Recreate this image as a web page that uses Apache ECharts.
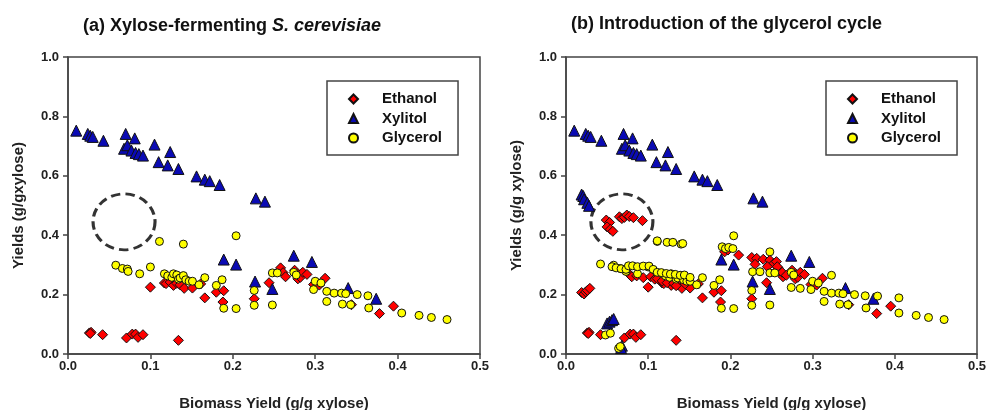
<!DOCTYPE html>
<html>
<head>
<meta charset="utf-8">
<script src="https://cdn.jsdelivr.net/npm/echarts@6/dist/echarts.min.js"></script>
<style>
    html, body { margin: 0; padding: 0; background: #fff; }
    #yieldCharts { width: 988px; height: 410px; }
</style>
</head>
<body>
<div id="yieldCharts"></div>
<script>
    // panel (a): xylose-fermenting S. cerevisiae  [biomass yield, product yield]
    const ethanolA = [
        [0.026, 0.071], [0.028, 0.073], [0.027, 0.069], [0.042, 0.065], [0.071, 0.054], [0.078, 0.067],
        [0.082, 0.067], [0.085, 0.056], [0.091, 0.065], [0.134, 0.046],
        [0.100, 0.225], [0.117, 0.239], [0.119, 0.237], [0.124, 0.242], [0.128, 0.231], [0.132, 0.238],
        [0.136, 0.233], [0.141, 0.221], [0.151, 0.222], [0.161, 0.236], [0.166, 0.189], [0.180, 0.208],
        [0.189, 0.213], [0.188, 0.175], [0.226, 0.186], [0.244, 0.240], [0.258, 0.290], [0.261, 0.274],
        [0.264, 0.260], [0.275, 0.282], [0.277, 0.270], [0.279, 0.253], [0.282, 0.258], [0.285, 0.275],
        [0.290, 0.268], [0.298, 0.234], [0.305, 0.232], [0.312, 0.255], [0.344, 0.166], [0.378, 0.136],
        [0.395, 0.161]
    ]
    const xylitolA = [
        [0.010, 0.752], [0.024, 0.741], [0.027, 0.735], [0.030, 0.731], [0.043, 0.718], [0.070, 0.741],
        [0.081, 0.726], [0.068, 0.691], [0.072, 0.703], [0.077, 0.685], [0.082, 0.677], [0.086, 0.673],
        [0.091, 0.668], [0.105, 0.705], [0.124, 0.680], [0.110, 0.646], [0.121, 0.635], [0.134, 0.623],
        [0.156, 0.598], [0.166, 0.587], [0.172, 0.582], [0.184, 0.569], [0.228, 0.524], [0.239, 0.513],
        [0.189, 0.318], [0.204, 0.301], [0.227, 0.244], [0.248, 0.219], [0.274, 0.331], [0.296, 0.310],
        [0.340, 0.222], [0.374, 0.186]
    ]
    const glycerolA = [
        [0.058, 0.299], [0.066, 0.288], [0.072, 0.286], [0.073, 0.278], [0.087, 0.270], [0.100, 0.293],
        [0.111, 0.379], [0.140, 0.370], [0.204, 0.398],
        [0.117, 0.270], [0.121, 0.263], [0.126, 0.258], [0.128, 0.270], [0.132, 0.266], [0.134, 0.252],
        [0.136, 0.256], [0.140, 0.264], [0.143, 0.250], [0.147, 0.245], [0.151, 0.245], [0.159, 0.233],
        [0.166, 0.257], [0.180, 0.231], [0.187, 0.250], [0.189, 0.154], [0.204, 0.153], [0.226, 0.214],
        [0.226, 0.164], [0.248, 0.165], [0.248, 0.273], [0.254, 0.273], [0.274, 0.275], [0.277, 0.266],
        [0.298, 0.217], [0.300, 0.245], [0.307, 0.239], [0.314, 0.211], [0.314, 0.177], [0.323, 0.205],
        [0.332, 0.205], [0.337, 0.203], [0.333, 0.168], [0.343, 0.166], [0.351, 0.200], [0.364, 0.196],
        [0.365, 0.155], [0.405, 0.138], [0.426, 0.130], [0.441, 0.123], [0.460, 0.116]
    ]

    // panel (b): extra points that appear after introducing the glycerol cycle
    const ethanolExtraB = [
        [0.049, 0.451], [0.053, 0.443], [0.050, 0.428], [0.054, 0.420], [0.057, 0.413], [0.065, 0.462],
        [0.068, 0.456], [0.071, 0.460], [0.074, 0.468], [0.077, 0.463], [0.082, 0.459], [0.093, 0.449],
        [0.019, 0.207], [0.022, 0.202], [0.024, 0.209], [0.026, 0.214], [0.029, 0.221],
        [0.077, 0.269], [0.080, 0.260], [0.086, 0.263], [0.094, 0.257], [0.103, 0.260], [0.108, 0.252],
        [0.111, 0.254], [0.117, 0.246], [0.123, 0.240], [0.131, 0.238], [0.134, 0.230], [0.145, 0.236],
        [0.193, 0.344], [0.210, 0.333], [0.197, 0.350],
        [0.226, 0.325], [0.232, 0.322], [0.230, 0.302], [0.240, 0.319], [0.248, 0.316], [0.253, 0.305],
        [0.256, 0.311], [0.257, 0.294], [0.245, 0.294], [0.263, 0.275], [0.268, 0.265]
    ]
    const xylitolExtraB = [
        [0.019, 0.537], [0.021, 0.532], [0.022, 0.521], [0.026, 0.509], [0.028, 0.499],
        [0.050, 0.103], [0.053, 0.109], [0.056, 0.114], [0.058, 0.118], [0.068, 0.028], [0.067, 0.020]
    ]
    const glycerolExtraB = [
        [0.042, 0.303], [0.056, 0.294], [0.061, 0.290], [0.067, 0.287], [0.073, 0.285], [0.076, 0.297],
        [0.081, 0.297], [0.087, 0.294], [0.094, 0.296], [0.101, 0.296], [0.106, 0.285], [0.111, 0.275],
        [0.116, 0.274], [0.122, 0.271], [0.127, 0.269], [0.133, 0.268], [0.139, 0.265], [0.144, 0.266],
        [0.151, 0.258], [0.111, 0.381], [0.123, 0.376], [0.130, 0.376], [0.142, 0.372],
        [0.190, 0.361], [0.194, 0.355], [0.198, 0.359], [0.203, 0.355], [0.248, 0.344],
        [0.048, 0.064], [0.054, 0.070], [0.064, 0.019], [0.066, 0.025],
        [0.323, 0.265], [0.379, 0.195], [0.405, 0.189], [0.274, 0.224], [0.285, 0.221],
        [0.227, 0.277], [0.236, 0.277]
    ]

    // dashed circle marking the region of interest
    const circleCentre = [[0.068, 0.445]]

    const seriesNames = ['Ethanol', 'Xylitol', 'Glycerol']
    const xTicks = { min: 0, max: 0.5, interval: 0.1 }
    const yTicks = { min: 0, max: 1.0, interval: 0.2 }
    const titles = ['(a) Xylose-fermenting {i|S. cerevisiae}', '(b) Introduction of the glycerol cycle']
    const yNames = ['Yields (g/gxylose)', 'Yields (g/g xylose)']
    const xName = 'Biomass Yield (g/g xylose)'

    const font = '"Liberation Sans", Arial, sans-serif'
    const frame = '#444'

    const chart = echarts.init(document.getElementById('yieldCharts'))

    const makeAxisX = (i) => ({
        type: 'value',
        gridIndex: i,
        min: xTicks.min,
        max: xTicks.max,
        interval: xTicks.interval,
        name: xName,
        nameLocation: 'middle',
        nameGap: 42,
        nameTextStyle: { fontFamily: font, fontWeight: 'bold', fontSize: 15, color: '#222' },
        axisLine: { lineStyle: { color: frame, width: 1.5 } },
        axisTick: { show: true, inside: false, length: 5, lineStyle: { color: frame, width: 1.5 } },
        axisLabel: {
            margin: 6,
            fontFamily: font,
            fontWeight: 'bold',
            fontSize: 13,
            color: '#222',
            formatter: v => v.toFixed(1)
        },
        splitLine: { show: false }
    })
    const makeAxisY = (i) => ({
        type: 'value',
        gridIndex: i,
        min: yTicks.min,
        max: yTicks.max,
        interval: yTicks.interval,
        name: yNames[i],
        nameLocation: 'middle',
        nameGap: 42,
        nameTextStyle: { fontFamily: font, fontWeight: 'bold', fontSize: 15, color: '#222' },
        axisLine: { lineStyle: { color: frame, width: 1.5 } },
        axisTick: { show: true, inside: false, length: 5, lineStyle: { color: frame, width: 1.5 } },
        axisLabel: {
            margin: 9,
            fontFamily: font,
            fontWeight: 'bold',
            fontSize: 13,
            color: '#222',
            formatter: v => v.toFixed(1)
        },
        splitLine: { show: false }
    })

    const makeSeries = (i, eth, xyl, gly) => [
        {
            name: seriesNames[0], type: 'scatter', xAxisIndex: i, yAxisIndex: i,
            symbol: 'diamond', symbolSize: 10, data: eth,
            itemStyle: { color: '#ff0000', borderColor: '#111', borderWidth: 1, opacity: 1 }
        },
        {
            name: seriesNames[1], type: 'scatter', xAxisIndex: i, yAxisIndex: i,
            symbol: 'triangle', symbolSize: 11, data: xyl,
            itemStyle: { color: '#0a0ab4', borderColor: '#111', borderWidth: 1, opacity: 1 }
        },
        {
            name: seriesNames[2], type: 'scatter', xAxisIndex: i, yAxisIndex: i,
            symbol: 'circle', symbolSize: 8, data: gly,
            itemStyle: { color: '#ffff00', borderColor: '#111', borderWidth: 1, opacity: 1 }
        },
        {
            name: 'region', type: 'scatter', xAxisIndex: i, yAxisIndex: i, silent: true,
            symbol: 'circle', symbolSize: [62, 56], data: circleCentre, z: 1,
            itemStyle: { color: 'rgba(0,0,0,0)', borderColor: '#000', borderWidth: 3, borderType: [9, 5] }
        }
    ]

    const makeLegend = (left) => ({
        left: left,
        top: 81,
        orient: 'vertical',
        data: [
            { name: 'Ethanol', icon: 'diamond' },
            { name: 'Xylitol', icon: 'triangle' },
            { name: 'Glycerol', icon: 'circle' }
        ],
        itemWidth: 9,
        itemHeight: 9,
        itemGap: 3.5,
        padding: [10, 16, 9, 21],
        borderColor: frame,
        borderWidth: 1.5,
        selectedMode: false,
        textStyle: { fontFamily: font, fontWeight: 'bold', fontSize: 15, color: '#111', lineHeight: 16, padding: [0, 0, 0, 19] }
    })

    const option = {
        animation: false,
        title: [
            {
                text: titles[0], left: 83, top: 17, padding: 0,
                textStyle: {
                    fontFamily: font, fontWeight: 'bold', fontSize: 18, color: '#111',
                    rich: { i: { fontFamily: font, fontWeight: 'bold', fontStyle: 'italic', fontSize: 18, color: '#111' } }
                }
            },
            {
                text: titles[1], left: 571, top: 15, padding: 0,
                textStyle: { fontFamily: font, fontWeight: 'bold', fontSize: 18, color: '#111' }
            }
        ],
        legend: [makeLegend(327), makeLegend(826)],
        grid: [
            { left: 68, right: 508, top: 57, bottom: 56, show: true, borderColor: frame, borderWidth: 1.5, containLabel: false, outerBoundsMode: 'none' },
            { left: 566, right: 11, top: 57, bottom: 56, show: true, borderColor: frame, borderWidth: 1.5, containLabel: false, outerBoundsMode: 'none' }
        ],
        xAxis: [makeAxisX(0), makeAxisX(1)],
        yAxis: [makeAxisY(0), makeAxisY(1)],
        series: [
            ...makeSeries(0, ethanolA, xylitolA, glycerolA),
            ...makeSeries(1, ethanolA.concat(ethanolExtraB), xylitolA.concat(xylitolExtraB), glycerolA.concat(glycerolExtraB))
        ]
    }
    chart.setOption(option)
</script>
</body>
</html>
